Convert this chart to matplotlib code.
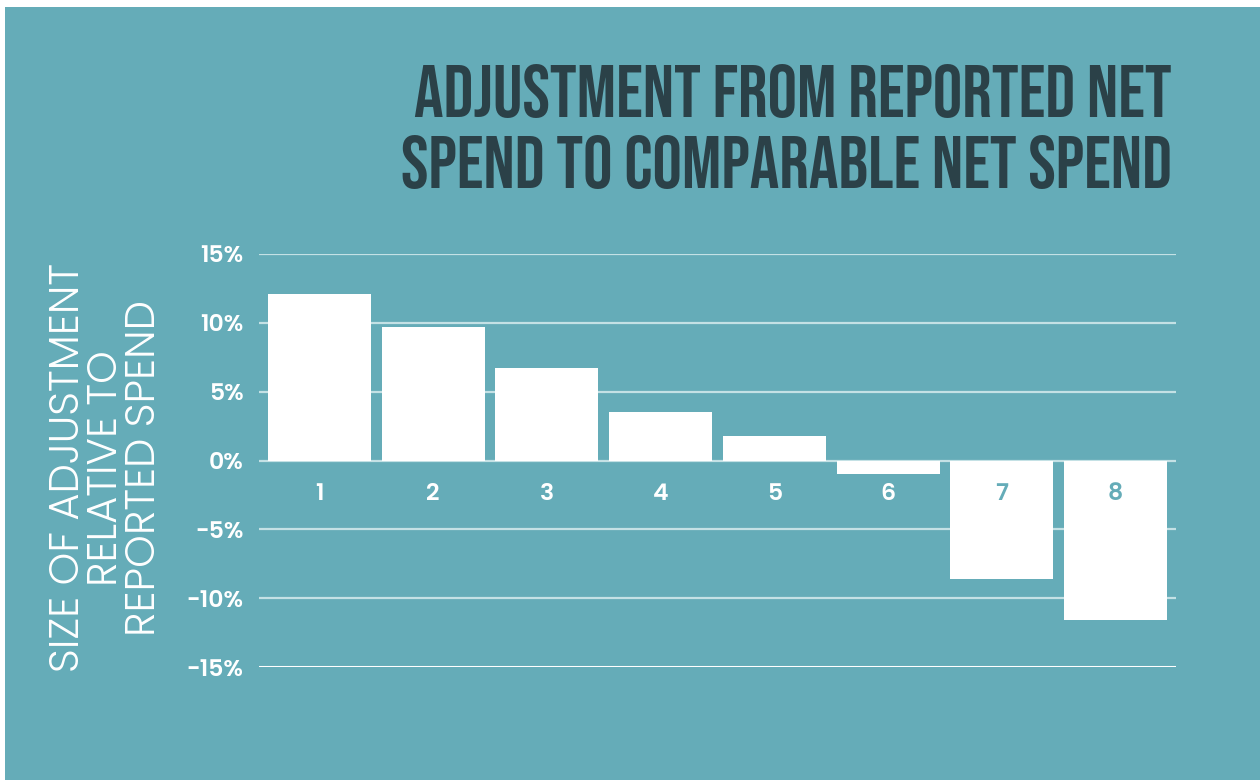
import numpy as np
import matplotlib.pyplot as plt
from matplotlib.patches import Rectangle

# adjustment from reported net spend to comparable net spend, in percent
groups = ["1", "2", "3", "4", "5", "6", "7", "8"]
adjustment = [12.1, 9.7, 6.7, 3.5, 1.8, -1.0, -8.6, -11.6]
y_ticks = [15, 10, 5, 0, -5, -10, -15]
title_lines = ["ADJUSTMENT FROM REPORTED NET", "SPEND TO COMPARABLE NET SPEND"]

bg = "#65acb8"
title_col = "#2b4148"
body_font = ["Poppins", "Lato", "DejaVu Sans"]
title_font = ["Bebas Neue", "Anton", "DejaVu Sans"]

fig = plt.figure(figsize=(12.6, 7.8), dpi=100)
fig.patch.set_facecolor("white")
# teal panel with a thin white edge on top and left
fig.add_artist(Rectangle((5 / 1260, 0), 1 - 5 / 1260, 1 - 7 / 780,
                         transform=fig.transFigure, facecolor=bg,
                         edgecolor="none", zorder=0))

ax = fig.add_axes([259 / 1260, 1 - 667 / 780, (1176 - 259) / 1260, (667 - 254) / 780])
ax.set_facecolor("none")

x = np.arange(1, len(groups) + 1)
ax.bar(x, adjustment, width=0.905, color="white", zorder=2)

ax.set_xlim(0.468, 8.532)
ax.set_ylim(-15, 15)
for v in y_ticks:
    if v == -15:
        ax.axhline(v, color="white", lw=2.2, zorder=3)
    else:
        ax.axhline(v, color="#c4e1e5", lw=1.6, zorder=1)

ax.set_yticks(y_ticks)
ax.set_yticklabels([f"{v}%" for v in y_ticks])
ax.tick_params(axis="y", length=0, pad=11, labelsize=17, labelcolor="white")
ax.set_xticks([])
for lbl in ax.get_yticklabels():
    lbl.set_fontfamily(body_font)
    lbl.set_fontweight("semibold")
for s in ax.spines.values():
    s.set_visible(False)

# category numbers sit just under the zero line; teal where a bar covers them
for xi, name, val in zip(x, groups, adjustment):
    col = bg if val < -3 else "white"
    ax.text(xi, -2.5, name, ha="center", va="center", color=col,
            fontsize=17, fontweight="semibold", family=body_font, zorder=4)

fig.text(107 / 1260, 1 - 468 / 780,
         "SIZE OF ADJUSTMENT\nRELATIVE TO\nREPORTED SPEND",
         rotation=90, ha="center", va="center", multialignment="center",
         color="white", fontsize=30, fontweight=300, family=body_font,
         linespacing=0.86)

for line, base in zip(title_lines, [117, 188]):
    fig.text(1172 / 1260, 1 - base / 780, line, ha="right", va="baseline",
             color=title_col, fontsize=53, family=title_font)

fig.savefig("out.png", dpi=100, facecolor=fig.get_facecolor())
